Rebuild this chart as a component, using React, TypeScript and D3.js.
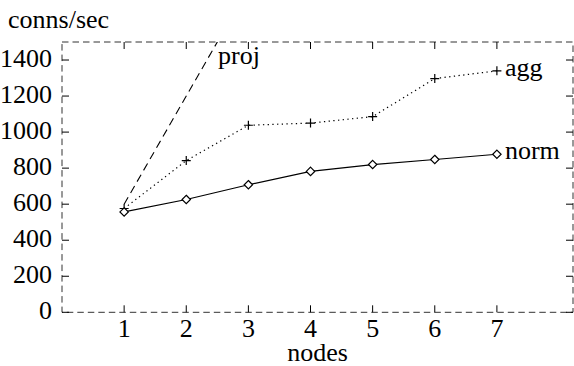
import React from "react";
import * as d3 from "d3";

const nodes = [1, 2, 3, 4, 5, 6, 7];
const normValues = [557, 626, 708, 782, 820, 848, 877];
const aggValues = [576, 842, 1038, 1050, 1086, 1297, 1340];
const projNodes = [1, 2, 3];
const projValues = [600, 1200, 1800];
const yTicks = [0, 200, 400, 600, 800, 1000, 1200, 1400];
const xTicks = [1, 2, 3, 4, 5, 6, 7];

const W = 574;
const H = 366;
const left = 62, right = 573, top = 42, bottom = 312.3;
const x = d3.scaleLinear().domain([0, 8.225]).range([left, right]);
const y = d3.scaleLinear().domain([0, 1500]).range([bottom, top]);
const line = d3.line<[number, number]>().x((d) => x(d[0])).y((d) => y(d[1]));

const FAMILY = `"Liberation Serif", "Times New Roman", "Tinos", "DejaVu Serif", serif`;
const ts: React.CSSProperties = { fontFamily: FAMILY, fontSize: 26 };

export default function App() {
  const aggPts = nodes.map((n, i) => [n, aggValues[i]] as [number, number]);
  const normPts = nodes.map((n, i) => [n, normValues[i]] as [number, number]);
  const projPts = projNodes.map((n, i) => [n, projValues[i]] as [number, number]);
  const tl = 7;
  const ps = 4.5;
  const ds = 4.2;

  return (
    <svg width={W} height={H}
      style={{ position: "absolute", left: 0, top: 0, background: "#fff", fontFamily: FAMILY }}>
      <defs>
        <clipPath id="plotclip">
          <rect x={left} y={top} width={right - left} height={bottom - top} />
        </clipPath>
      </defs>
      <rect x={left} y={top} width={right - left} height={bottom - top}
        fill="none" stroke="#333" strokeWidth={1} strokeDasharray="6.5,4" />
      <g stroke="#000" strokeWidth={1}>
        {yTicks.map((v) => (
          <g key={"y" + v}>
            <line x1={left} x2={left + tl} y1={y(v)} y2={y(v)} />
            <line x1={right} x2={right - tl} y1={y(v)} y2={y(v)} />
          </g>
        ))}
        {xTicks.map((v) => (
          <g key={"x" + v}>
            <line x1={x(v)} x2={x(v)} y1={bottom} y2={bottom - tl} />
            <line x1={x(v)} x2={x(v)} y1={top} y2={top + tl} />
          </g>
        ))}
      </g>
      {yTicks.map((v) => (
        <text key={"yl" + v} x={52} y={y(v) + 6.5} textAnchor="end" style={ts}>{String(v)}</text>
      ))}
      {xTicks.map((v) => (
        <text key={"xl" + v} x={x(v)} y={336.5} textAnchor="middle" style={ts}>{String(v)}</text>
      ))}
      <text x={(left + right) / 2} y={361} textAnchor="middle" style={ts}>nodes</text>
      <text x={8} y={28} style={ts}>conns/sec</text>
      <text x={x(7) + 8} y={y(aggValues[6]) + 5} style={ts}>agg</text>
      <text x={x(7) + 8} y={y(normValues[6]) + 5} style={ts}>norm</text>
      <text x={218} y={64} style={ts}>proj</text>
      <g clipPath="url(#plotclip)">
        <path d={line(projPts) || ""} fill="none" stroke="#000" strokeWidth={1.1} strokeDasharray="8,5" />
        <path d={line(aggPts) || ""} fill="none" stroke="#000" strokeWidth={1.2} strokeDasharray="1.3,3.4" />
        <path d={line(normPts) || ""} fill="none" stroke="#000" strokeWidth={1.2} />
        {aggPts.map(([n, v]) => (
          <path key={"a" + n}
            d={`M${x(n) - ps},${y(v)}H${x(n) + ps}M${x(n)},${y(v) - ps}V${y(v) + ps}`}
            stroke="#000" strokeWidth={1.2} fill="none" />
        ))}
        {normPts.map(([n, v]) => (
          <path key={"n" + n}
            d={`M${x(n)},${y(v) - ds}L${x(n) + ds},${y(v)}L${x(n)},${y(v) + ds}L${x(n) - ds},${y(v)}Z`}
            stroke="#000" strokeWidth={1.2} fill="#fff" />
        ))}
      </g>
    </svg>
  );
}
